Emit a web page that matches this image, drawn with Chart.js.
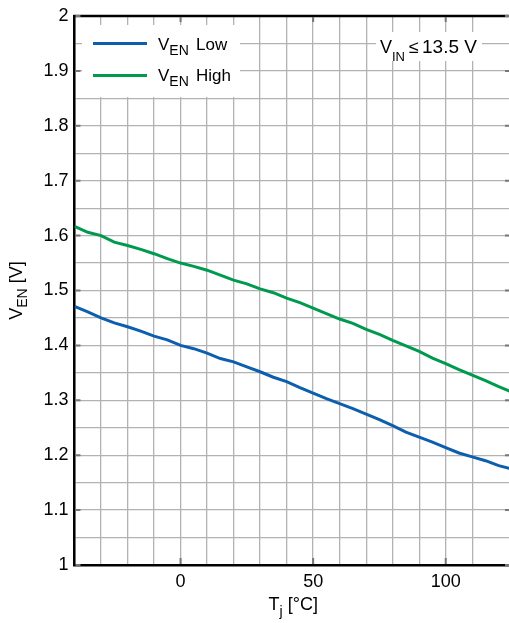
<!DOCTYPE html>
<html>
<head>
<meta charset="utf-8">
<script src="https://cdn.jsdelivr.net/npm/chart.js@4/dist/chart.umd.min.js"></script>
<style>
  html, body { margin: 0; padding: 0; background: #fff; overflow: hidden; }
  #wrap { width: 512px; height: 623px; }
</style>
</head>
<body>
<div id="wrap"><canvas id="chart" width="512" height="623"></canvas></div>
<script>
// junction temperature (°C)
const temps = [-40, -35, -30, -25, -20, -15, -10, -5, 0, 5, 10, 15, 20, 25, 30, 35, 40,
  45, 50, 55, 60, 65, 70, 75, 80, 85, 90, 95, 100, 105, 110, 115, 120, 125];
// enable threshold, low (V)
const vLow = [1.471, 1.461, 1.450, 1.441, 1.434, 1.426, 1.417, 1.410, 1.400, 1.394, 1.386, 1.376,
  1.370, 1.361, 1.352, 1.342, 1.334, 1.323, 1.313, 1.303, 1.294, 1.285, 1.275, 1.265, 1.254,
  1.242, 1.233, 1.224, 1.214, 1.204, 1.197, 1.190, 1.181, 1.175];
// enable threshold, high (V)
const vHigh = [1.617, 1.606, 1.600, 1.588, 1.582, 1.575, 1.567, 1.558, 1.550, 1.544, 1.537, 1.528,
  1.519, 1.512, 1.503, 1.496, 1.486, 1.478, 1.468, 1.458, 1.448, 1.440, 1.429, 1.420, 1.409,
  1.399, 1.389, 1.377, 1.367, 1.356, 1.346, 1.336, 1.325, 1.315];

const xLabels = [0, 50, 100];
const yLabels = [1, 1.1, 1.2, 1.3, 1.4, 1.5, 1.6, 1.7, 1.8, 1.9, 2];

const BLUE = '#0d5fae';
const GREEN = '#009a4e';
const FONT = "'Liberation Sans', Arial, Helvetica, sans-serif";

function pts(ys) {
  return temps.map((t, i) => ({ x: t, y: ys[i] }));
}

// text with subscripts: parts = [[text, isSub], ...]
function richWidth(ctx, parts, size, subSize) {
  let w = 0;
  parts.forEach(([t, sub]) => {
    ctx.font = (sub ? subSize : size) + 'px ' + FONT;
    w += ctx.measureText(t).width;
  });
  return w;
}
function drawRich(ctx, parts, x, y, size, subSize, shift) {
  parts.forEach(([t, sub]) => {
    ctx.font = (sub ? subSize : size) + 'px ' + FONT;
    ctx.fillText(t, x, sub ? y + shift : y);
    x += ctx.measureText(t).width;
  });
}

const decor = {
  id: 'decor',
  afterDraw(chart) {
    const { ctx, chartArea: a, scales } = chart;
    const xs = scales.x, ys = scales.y;
    ctx.save();

    // top border
    ctx.strokeStyle = '#000';
    ctx.lineWidth = 2.5;
    ctx.beginPath();
    ctx.moveTo(a.left - 1, a.top);
    ctx.lineTo(a.right, a.top);
    ctx.stroke();

    // small tick marks
    ctx.strokeStyle = '#777';
    ctx.lineWidth = 2;
    ctx.beginPath();
    xLabels.forEach(v => {
      const px = xs.getPixelForValue(v);
      ctx.moveTo(px, a.bottom - 1); ctx.lineTo(px, a.bottom - 7);
      ctx.moveTo(px, a.top + 1); ctx.lineTo(px, a.top + 6);
    });
    yLabels.forEach(v => {
      const py = ys.getPixelForValue(v);
      ctx.moveTo(a.left + 1, py); ctx.lineTo(a.left + 6, py);
      ctx.moveTo(a.right - 7, py); ctx.lineTo(a.right, py);
    });
    ctx.stroke();

    ctx.textBaseline = 'alphabetic';
    ctx.textAlign = 'left';

    // legend
    ctx.fillStyle = '#fff';
    ctx.fillRect(82, 25, 158, 72);
    [[BLUE, 'Low', 43.5, 50], [GREEN, 'High', 75.5, 81]].forEach(([c, name, ly, by]) => {
      ctx.strokeStyle = c;
      ctx.lineWidth = 3;
      ctx.beginPath();
      ctx.moveTo(93, ly); ctx.lineTo(147, ly);
      ctx.stroke();
      ctx.fillStyle = '#000';
      drawRich(ctx, [['V', false], ['EN', true]], 158, by, 17, 14, 4.5);
      ctx.font = '17px ' + FONT;
      ctx.fillText(name, 196, by);
    });

    // condition box
    ctx.fillStyle = '#fff';
    ctx.fillRect(376, 32, 106, 29);
    ctx.fillStyle = '#000';
    drawRich(ctx, [['V', false], ['IN', true]], 380, 53, 18, 13, 8);
    ctx.font = '18px ' + FONT;
    ctx.fillText('\u2264', 409, 53);
    ctx.font = '19px ' + FONT;
    ctx.fillText('13.5 V', 422, 53);

    // x title
    const xt = [['T', false], ['j', true], [' [\u00b0C]', false]];
    const xw = richWidth(ctx, xt, 18, 14);
    drawRich(ctx, xt, (a.left + a.right) / 2 - xw / 2, 610, 18, 14, 6);

    // y title
    const yt = [['V', false], ['EN', true], [' [V]', false]];
    const yw = richWidth(ctx, yt, 18, 14);
    ctx.translate(22, (a.top + a.bottom) / 2);
    ctx.rotate(-Math.PI / 2);
    drawRich(ctx, yt, -yw / 2, 0, 18, 14, 5);

    ctx.restore();
  }
};

new Chart(document.getElementById('chart').getContext('2d'), {
  type: 'scatter',
  data: {
    datasets: [
      { label: 'VEN Low', data: pts(vLow), showLine: true, borderColor: BLUE, borderWidth: 3,
        pointRadius: 0, tension: 0 },
      { label: 'VEN High', data: pts(vHigh), showLine: true, borderColor: GREEN, borderWidth: 3,
        pointRadius: 0, tension: 0 }
    ]
  },
  options: {
    responsive: false,
    animation: false,
    layout: { padding: { top: 16, right: 0, left: 0, bottom: 0 } },
    plugins: { legend: { display: false }, tooltip: { enabled: false } },
    scales: {
      x: {
        type: 'linear', min: -40, max: 125,
        afterFit: s => { s.height = 58; s.paddingLeft = 0; s.paddingRight = 0; },
        ticks: {
          stepSize: 10, autoSkip: false, maxRotation: 0, padding: 6,
          color: '#000', font: { family: FONT, size: 18 },
          callback: v => xLabels.includes(v) ? String(v) : ''
        },
        grid: { color: '#b2b2b2', lineWidth: 1.3, drawTicks: false },
        border: { color: '#000', width: 2.5 }
      },
      y: {
        min: 1, max: 2,
        afterFit: s => { s.width = 74.5; s.paddingTop = 0; s.paddingBottom = 0; },
        ticks: {
          stepSize: 0.05, autoSkip: false, padding: 6,
          color: '#000', font: { family: FONT, size: 18 },
          callback: v => {
            const r = Math.round(v * 10) / 10;
            return Math.abs(v - r) < 1e-6 ? String(r) : '';
          }
        },
        grid: { color: '#b2b2b2', lineWidth: 1.3, drawTicks: false },
        border: { color: '#000', width: 2.5 }
      }
    }
  },
  plugins: [decor]
});
</script>
</body>
</html>
